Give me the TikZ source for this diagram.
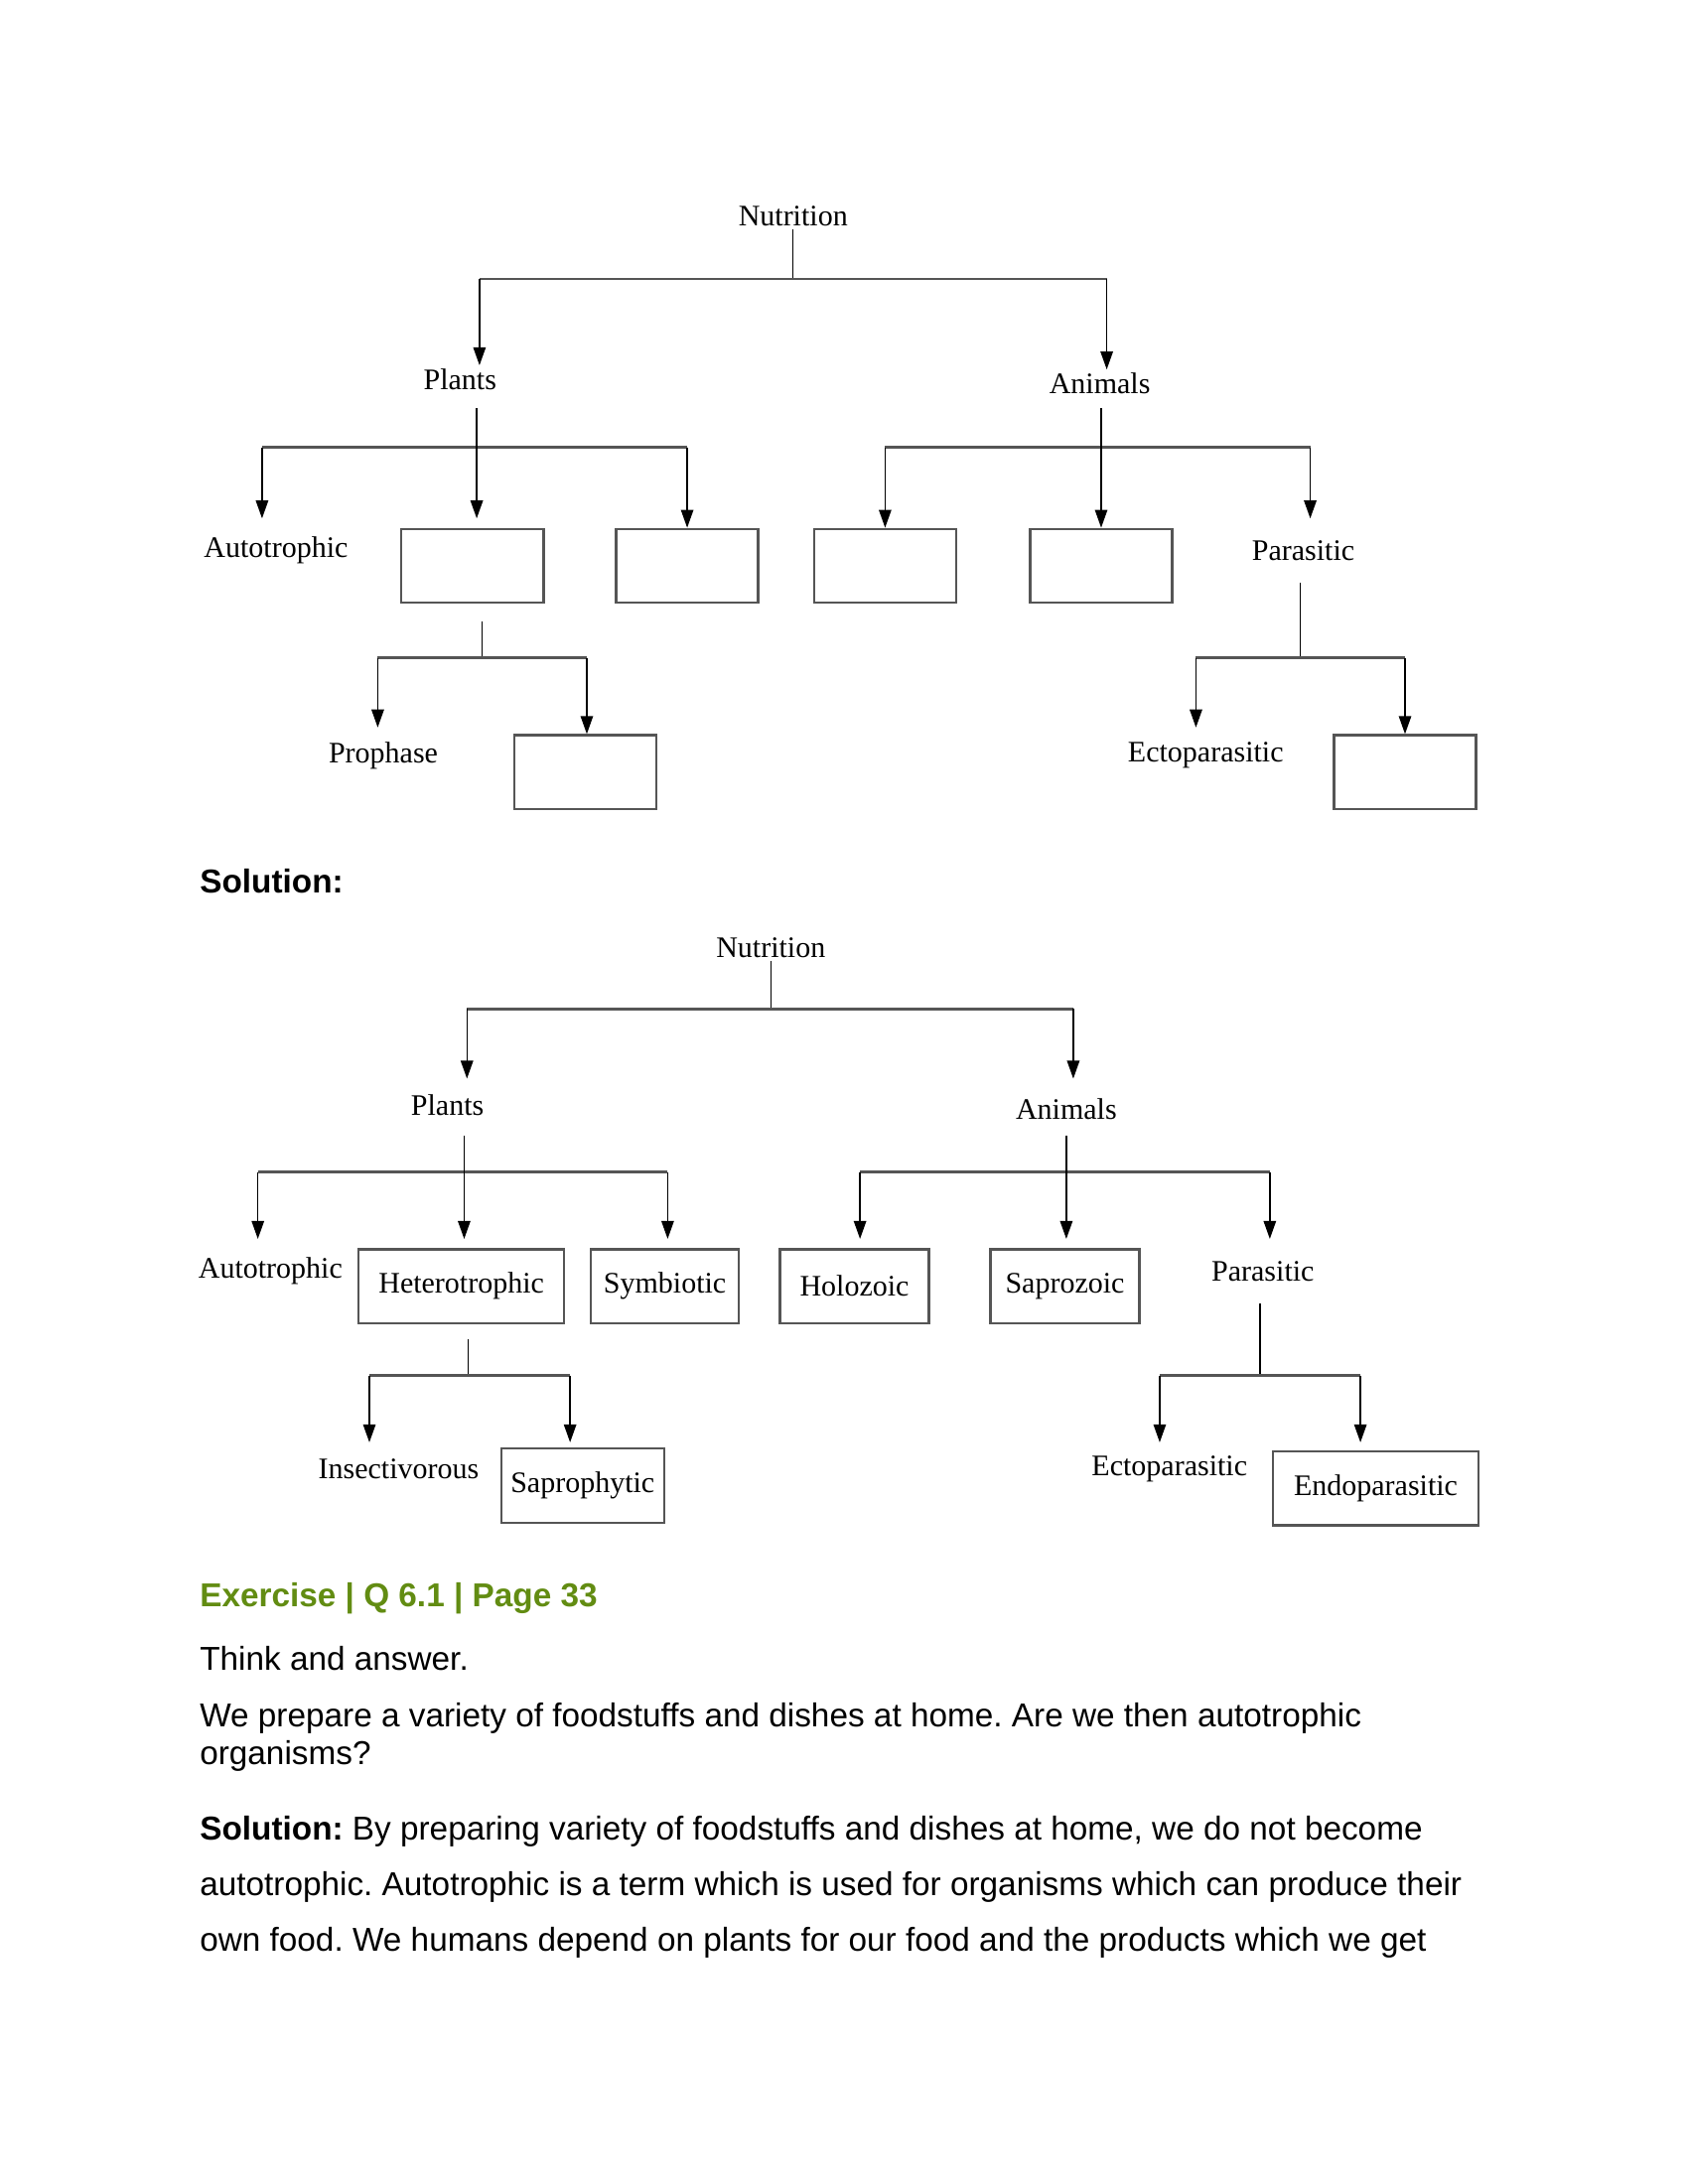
\documentclass[tikz,border=0pt]{standalone}
\usepackage{fontspec}
\setmainfont{Liberation Serif}
\newfontfamily\bodyfont{Liberation Sans}
\usetikzlibrary{arrows.meta}
\frenchspacing
\definecolor{exgreen}{RGB}{98,140,18}
\definecolor{barcol}{RGB}{85,85,85}
\tikzset{
  lbl/.style={font=\fontsize{10.8}{12}\selectfont, inner sep=1pt},
  bx/.style={lbl, draw=barcol, line width=0.8pt, minimum width=#1, minimum height=26.8pt},
  bx/.default=51.5pt,
  bar/.style={barcol, line width=0.9pt},
  arr/.style={>={Triangle[length=6.5pt,width=4.5pt]},->, line width=0.5pt},
  txt/.style={font=\bodyfont\fontsize{12}{14}\selectfont, anchor=west, inner sep=0pt},
}
\begin{document}
\begin{tikzpicture}[x=0.50537pt,y=-0.50537pt]
\useasboundingbox (0,0) rectangle (1211,1567.2);
% question tree
\node[lbl] (nut) at (569,155) {Nutrition};
\node[lbl] (plants) at (330,272) {Plants};
\node[lbl] (animals) at (789,275) {Animals};
\node[lbl] (auto) at (198,395) {Autotrophic};
\node[bx] (qa) at (339,406) {};
\node[bx] (qb) at (493,406) {};
\node[bx] (qc) at (635,406) {};
\node[bx] (qd) at (790,406) {};
\node[lbl] (para) at (935,395) {Parasitic};
\node[lbl] (pro) at (275,542) {Prophase};
\node[bx] (qe) at (420,554) {};
\node[lbl] (ecto) at (865,542) {Ectoparasitic};
\node[bx] (qf) at (1008,554) {};
\coordinate (n1) at (344,200); \coordinate (n2) at (794,200);
\coordinate (p1) at (188,321); \coordinate (p2) at (493,321);
\coordinate (a1) at (635,321); \coordinate (a2) at (940,321);
\coordinate (h1) at (271,472); \coordinate (h2) at (421,472);
\coordinate (e1) at (858,472); \coordinate (e2) at (1008,472);
\draw (nut.south) -- (569,200);
\draw[bar] (n1) -- (n2);
\draw[arr] (n1) -- (n1 |- plants.north);
\draw[arr] (n2) -- (n2 |- animals.north);
\draw[bar] (p1) -- (p2);
\draw[arr] (342,293) -- (342,372);
\draw[arr] (p1) -- (188,372);
\draw[arr] (p2) -- (qb.north);
\draw[bar] (a1) -- (a2);
\draw[arr] (790,293) -- (qd.north);
\draw[arr] (a1) -- (qc.north);
\draw[arr] (a2) -- (940,372);
\draw (346,446) -- (346,472);
\draw[bar] (h1) -- (h2);
\draw[arr] (h1) -- (271,522);
\draw[arr] (h2) -- (h2 |- qe.north);
\draw (933,418) -- (933,472);
\draw[bar] (e1) -- (e2);
\draw[arr] (e1) -- (858,522);
\draw[arr] (e2) -- (e2 |- qf.north);
\node[txt, font=\bodyfont\bfseries\fontsize{12}{14}\selectfont] (sol) at (143,632) {Solution:};
% answer tree
\node[lbl] (nutB) at (553,680) {Nutrition};
\node[lbl] (plantsB) at (321,793) {Plants};
\node[lbl] (animalsB) at (765,796) {Animals};
\node[lbl] (autoB) at (194,912) {Autotrophic};
\node[bx=74.5pt] (het) at (331,923) {Heterotrophic};
\node[bx=53.5pt] (sym) at (477,923) {Symbiotic};
\node[bx=54pt] (holo) at (613,923) {Holozoic};
\node[bx=54pt] (sapz) at (764,923) {Saprozoic};
\node[lbl] (paraB) at (906,912) {Parasitic};
\node[lbl] (insect) at (286,1054) {Insectivorous};
\node[bx=59pt] (saph) at (418,1066) {Saprophytic};
\node[lbl] (ectoB) at (839,1054) {Ectoparasitic};
\node[bx=74.5pt] (endo) at (987,1068) {Endoparasitic};
\coordinate (m1) at (335,724); \coordinate (m2) at (770,724);
\coordinate (r1) at (185,841); \coordinate (r2) at (479,841);
\coordinate (s1) at (617,841); \coordinate (s2) at (911,841);
\coordinate (t1) at (265,987); \coordinate (t2) at (409,987);
\coordinate (u1) at (832,987); \coordinate (u2) at (976,987);
\draw (nutB.south) -- (553,724);
\draw[bar] (m1) -- (m2);
\draw[arr] (m1) -- (335,774);
\draw[arr] (m2) -- (770,774);
\draw[bar] (r1) -- (r2);
\draw[arr] (333,815) -- (333,889);
\draw[arr] (r1) -- (185,889);
\draw[arr] (r2) -- (479,889);
\draw[bar] (s1) -- (s2);
\draw[arr] (765,815) -- (765,889);
\draw[arr] (s1) -- (617,889);
\draw[arr] (s2) -- (911,889);
\draw (336,961) -- (336,987);
\draw[bar] (t1) -- (t2);
\draw[arr] (t1) -- (265,1035);
\draw[arr] (t2) -- (409,1035);
\draw (904,935) -- (904,987);
\draw[bar] (u1) -- (u2);
\draw[arr] (u1) -- (832,1035);
\draw[arr] (u2) -- (976,1035);
% text below
\node[txt, text=exgreen, font=\bodyfont\bfseries\fontsize{12}{14}\selectfont] (ex) at (143,1147) {Exercise | Q 6.1 | Page 33};
\node[txt] (q1) at (143,1190) {Think and answer.};
\node[txt] (q2) at (143,1233) {We prepare a variety of foodstuffs and dishes at home. Are we then autotrophic};
\node[txt] (q3) at (143,1260) {organisms?};
\node[txt] (s1t) at (143,1314) {\textbf{Solution:} By preparing variety of foodstuffs and dishes at home, we do not become};
\node[txt] (s2t) at (143,1354) {autotrophic. Autotrophic is a term which is used for organisms which can produce their};
\node[txt] (s3t) at (143,1394) {own food. We humans depend on plants for our food and the products which we get};
\end{tikzpicture}
\end{document}
